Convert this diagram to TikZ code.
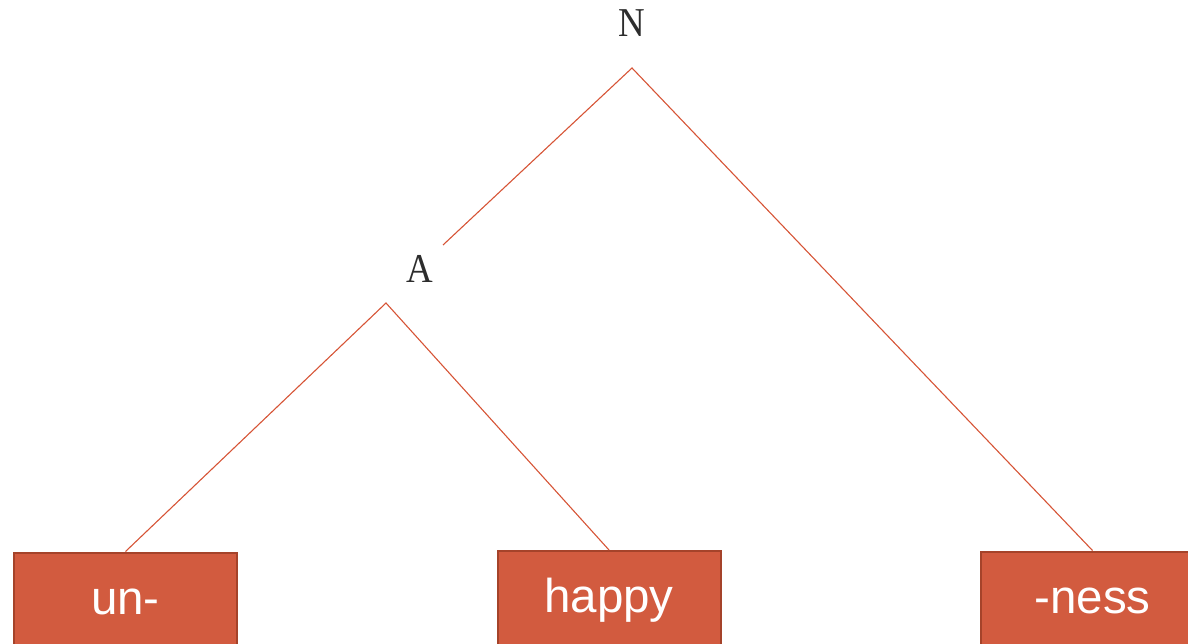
\documentclass[tikz,border=0pt]{standalone}
\usepackage{fontspec}
\setmainfont{Liberation Serif}
\newfontfamily\labelfont[FakeStretch=0.9]{Liberation Serif}
\newfontfamily\boxfont{Liberation Sans}
\definecolor{boxfill}{RGB}{210,91,63}
\definecolor{boxedge}{RGB}{165,67,42}
\definecolor{treeline}{RGB}{214,84,54}
\definecolor{labelgray}{RGB}{45,45,45}
\begin{document}
\begin{tikzpicture}[x=1pt,y=-1pt,
  morph/.style={draw=boxedge, line width=2pt, fill=boxfill, minimum width=223pt,
    minimum height=100pt, text height=34pt, text depth=11pt, inner sep=0pt,
    text=white, font=\boxfont\fontsize{47.5}{50}\selectfont},
  cat/.style={text=labelgray, inner sep=0pt, font=\labelfont\fontsize{41}{46}\selectfont},
  branch/.style={draw=treeline, line width=1.1pt}]
\useasboundingbox (0,0) rectangle (1188,643);
\node[cat] (N) at (632,23) {N};
\node[cat] (A) at (420,269) {A};
\node[morph] (un) at (125.5,602.5) {un-};
\node[morph] (happy) at (609,601) {happy};
\node[morph] (ness) at (1092.5,601.5) {-ness};
\coordinate (Ntop) at (632,68);
\coordinate (Aend) at (443,245);
\coordinate (Atop) at (386,303);
\draw[branch] (Aend) -- (Ntop) -- (ness.north);
\draw[branch] (un.north) -- (Atop) -- (happy.north);
\end{tikzpicture}
\end{document}
